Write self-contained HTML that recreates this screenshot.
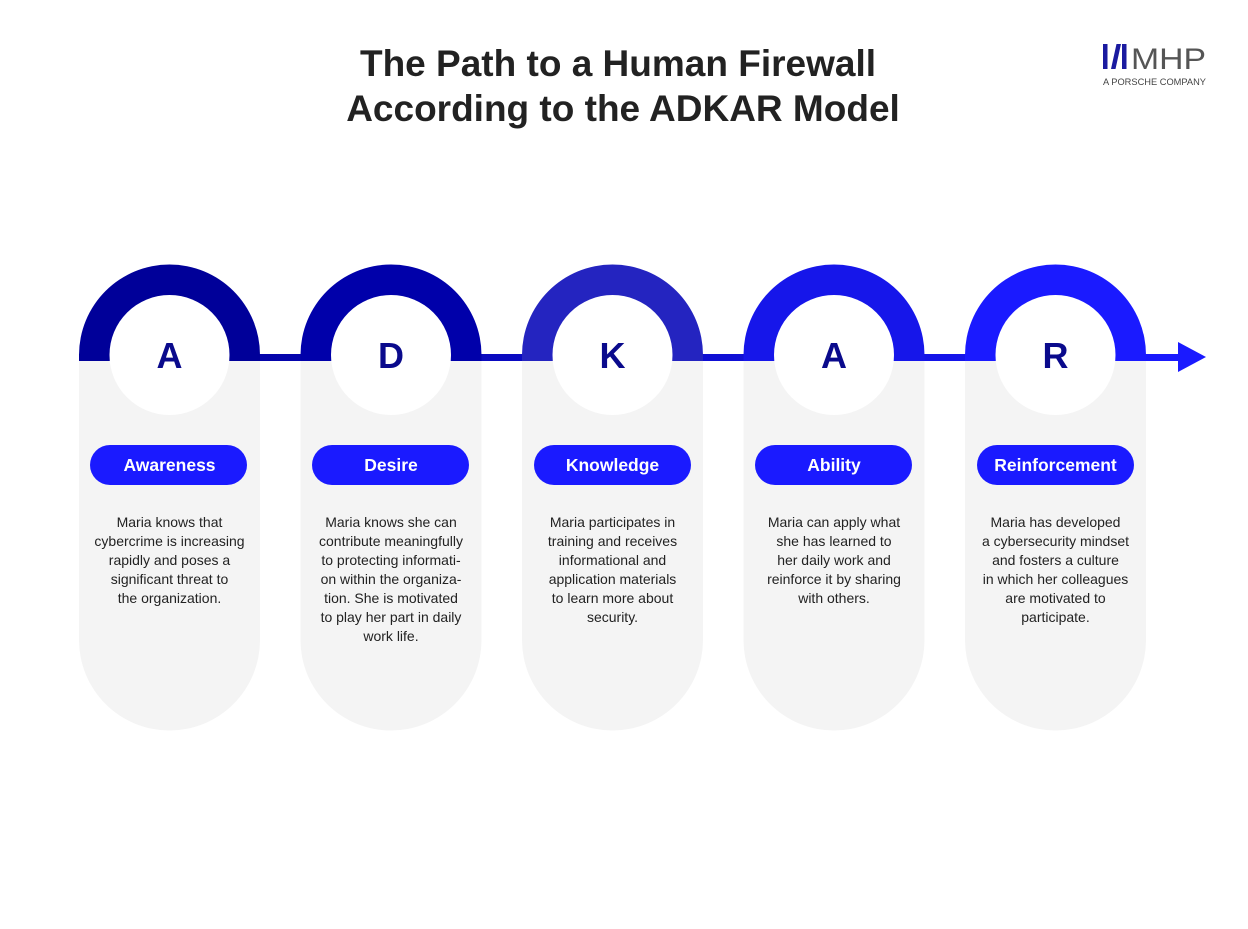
<!DOCTYPE html>
<html><head><meta charset="utf-8"><style>
body{margin:0;background:#fff;}
svg text{font-family:"Liberation Sans",sans-serif;}
</style></head><body>
<svg width="1248" height="924" viewBox="0 0 1248 924" xmlns="http://www.w3.org/2000/svg">
<rect width="1248" height="924" fill="#fff"/>
<text x="618" y="76" text-anchor="middle" font-size="37" font-weight="bold" fill="#222">The Path to a Human Firewall</text>
<text x="623" y="121" text-anchor="middle" font-size="37" font-weight="bold" fill="#222">According to the ADKAR Model</text>
<!-- logo -->
<g fill="#1a1aa0">
<rect x="1103" y="44" width="4.5" height="25"/>
<polygon points="1111,69 1115.5,69 1121,44 1116.5,44"/>
<rect x="1122" y="44" width="4.5" height="25"/>
</g>
<text x="1131" y="69" font-size="30" fill="#555" textLength="75" lengthAdjust="spacingAndGlyphs">MHP</text>
<text x="1103" y="85" font-size="9.5" fill="#444" textLength="103" lengthAdjust="spacingAndGlyphs">A PORSCHE COMPANY</text>

<g fill="#f4f4f4">
<path d="M79 358 H260 V640 A90.5 90.5 0 0 1 79 640 Z"/>
<path d="M300.5 358 H481.5 V640 A90.5 90.5 0 0 1 300.5 640 Z"/>
<path d="M522 358 H703 V640 A90.5 90.5 0 0 1 522 640 Z"/>
<path d="M743.5 358 H924.5 V640 A90.5 90.5 0 0 1 743.5 640 Z"/>
<path d="M965 358 H1146 V640 A90.5 90.5 0 0 1 965 640 Z"/>
</g>
<defs><linearGradient id="lg" x1="0" x2="1"><stop offset="0" stop-color="#000099"/><stop offset="1" stop-color="#1a1aff"/></linearGradient></defs>
<rect x="79" y="354" width="1105" height="7" fill="url(#lg)"/>
<polygon points="1178,342 1206,357 1178,372" fill="#1a1aff"/>
<path d="M79 355 A90.5 90.5 0 0 1 260 355 V361 H79 Z" fill="#000099"/>
<path d="M300.5 355 A90.5 90.5 0 0 1 481.5 355 V361 H300.5 Z" fill="#0000aa"/>
<path d="M522 355 A90.5 90.5 0 0 1 703 355 V361 H522 Z" fill="#2424c0"/>
<path d="M743.5 355 A90.5 90.5 0 0 1 924.5 355 V361 H743.5 Z" fill="#1616ea"/>
<path d="M965 355 A90.5 90.5 0 0 1 1146 355 V361 H965 Z" fill="#1a1aff"/>
<g fill="#fff">
<circle cx="169.5" cy="355" r="60"/>
<circle cx="391" cy="355" r="60"/>
<circle cx="612.5" cy="355" r="60"/>
<circle cx="834" cy="355" r="60"/>
<circle cx="1055.5" cy="355" r="60"/>
</g>
<g font-size="36" font-weight="bold" fill="#0a0a8c" text-anchor="middle">
<text x="169.5" y="368">A</text>
<text x="391" y="368">D</text>
<text x="612.5" y="368">K</text>
<text x="834" y="368">A</text>
<text x="1055.5" y="368">R</text>
</g>
<g fill="#1a1aff">
<rect x="90" y="445" width="157" height="40" rx="20"/>
<rect x="312" y="445" width="157" height="40" rx="20"/>
<rect x="534" y="445" width="157" height="40" rx="20"/>
<rect x="755" y="445" width="157" height="40" rx="20"/>
<rect x="977" y="445" width="157" height="40" rx="20"/>
</g>
<g font-size="17.5" font-weight="bold" fill="#fff" text-anchor="middle">
<text x="169.5" y="471">Awareness</text>
<text x="391" y="471">Desire</text>
<text x="612.5" y="471">Knowledge</text>
<text x="834" y="471">Ability</text>
<text x="1055.5" y="471">Reinforcement</text>
</g>
<g font-size="14" fill="#222" text-anchor="middle">
<text x="169.5" y="527">Maria knows that</text>
<text x="169.5" y="546">cybercrime is increasing</text>
<text x="169.5" y="565">rapidly and poses a</text>
<text x="169.5" y="584">significant threat to</text>
<text x="169.5" y="603">the organization.</text>

<text x="391" y="527">Maria knows she can</text>
<text x="391" y="546">contribute meaningfully</text>
<text x="391" y="565">to protecting informati-</text>
<text x="391" y="584">on within the organiza-</text>
<text x="391" y="603">tion. She is motivated</text>
<text x="391" y="622">to play her part in daily</text>
<text x="391" y="641">work life.</text>

<text x="612.5" y="527">Maria participates in</text>
<text x="612.5" y="546">training and receives</text>
<text x="612.5" y="565">informational and</text>
<text x="612.5" y="584">application materials</text>
<text x="612.5" y="603">to learn more about</text>
<text x="612.5" y="622">security.</text>

<text x="834" y="527">Maria can apply what</text>
<text x="834" y="546">she has learned to</text>
<text x="834" y="565">her daily work and</text>
<text x="834" y="584">reinforce it by sharing</text>
<text x="834" y="603">with others.</text>

<text x="1055.5" y="527">Maria has developed</text>
<text x="1055.5" y="546">a cybersecurity mindset</text>
<text x="1055.5" y="565">and fosters a culture</text>
<text x="1055.5" y="584">in which her colleagues</text>
<text x="1055.5" y="603">are motivated to</text>
<text x="1055.5" y="622">participate.</text>
</g>
</svg>
</body></html>
